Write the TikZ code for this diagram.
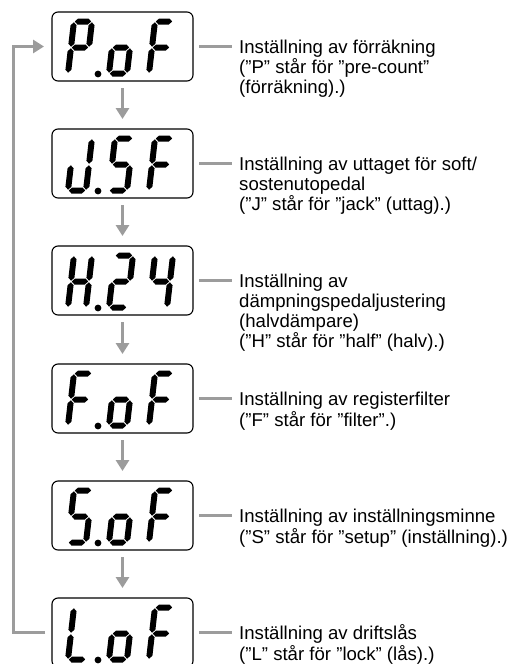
\documentclass[tikz,border=0pt]{standalone}
\usepackage{fontspec}
\setmainfont{Liberation Sans}
\usetikzlibrary{arrows.meta}
\definecolor{conngray}{HTML}{9C9C9C}
% seven-segment pieces (local units, y up, W=18, H=52, T=6)
\newcommand\hseg[1]{\fill (0.8,{#1}) -- (3.8,{#1+3}) -- (14.2,{#1+3}) -- (17.2,{#1}) -- (14.2,{#1-3}) -- (3.8,{#1-3}) -- cycle;}
\newcommand\vseg[3]{\fill ({#1},{#2+0.8}) -- ({#1+3},{#2+3.8}) -- ({#1+3},{#3-3.8}) -- ({#1},{#3-0.8}) -- ({#1-3},{#3-3.8}) -- ({#1-3},{#2+3.8}) -- cycle;}
\newcommand\lcdsegA{\hseg{52}}
\newcommand\lcdsegG{\hseg{26}}
\newcommand\lcdsegD{\hseg{0}}
\newcommand\lcdsegB{\vseg{18}{26}{52}}
\newcommand\lcdsegC{\vseg{18}{0}{26}}
\newcommand\lcdsegE{\vseg{0}{0}{26}}
\newcommand\lcdsegF{\vseg{0}{26}{52}}
\newcommand\lcdchar[3]{\begin{scope}[shift={(#1,{#2})},x=1pt,y=1pt,xslant=0.115]\foreach \s in {#3}{\csname lcdseg\s\endcsname}\end{scope}}
\newcommand\lcdbox[5]{%
  \node[lcdframe] (#1) at (52,#2) {};
  \lcdchar{68}{#2+61.5}{#3}
  \fill (98,{#2+62}) circle[radius=3.4pt];
  \lcdchar{109}{#2+61.5}{#4}
  \lcdchar{149}{#2+61.5}{#5}
}
\begin{document}
\begin{tikzpicture}[x=1pt,y=-1pt,
  lcdframe/.style={draw=black, line width=1.1pt, rounded corners=6pt, anchor=north west,
    minimum width=141pt, minimum height=69pt, inner sep=0pt, outer sep=0pt},
  conn/.style={draw=conngray, line width=3pt},
  connarrow/.style={conn, -{Triangle[width=13pt,length=11pt]}},
  desc/.style={anchor=base west, inner sep=0pt, font=\fontsize{18.6}{20}\selectfont}]
\useasboundingbox (0,0) rectangle (509,664);
\clip (0,0) rectangle (509,664);
\fill[white] (0,0) rectangle (509,664);

\lcdbox{b1}{12}{A,B,E,F,G}{C,D,E,G}{A,E,F,G}
\lcdbox{b2}{129}{B,C,D,E}{A,C,D,F,G}{A,E,F,G}
\lcdbox{b3}{246}{B,C,E,F,G}{A,B,D,E,G}{B,C,F,G}
\lcdbox{b4}{364}{A,E,F,G}{C,D,E,G}{A,E,F,G}
\lcdbox{b5}{481}{A,C,D,F,G}{C,D,E,G}{A,E,F,G}
\lcdbox{b6}{598}{D,E,F}{C,D,E,G}{A,E,F,G}

\node[desc] (t1) at ([xshift=46pt,yshift=-6.5pt]b1.east) {\begin{tabular}[t]{@{}l@{}}Inställning av förräkning\\(”P” står för ”pre-count”\\(förräkning).)\end{tabular}};
\node[desc] (t2) at ([xshift=46pt,yshift=-6.5pt]b2.east) {\begin{tabular}[t]{@{}l@{}}Inställning av uttaget för soft/\\sostenutopedal\\(”J” står för ”jack” (uttag).)\end{tabular}};
\node[desc] (t3) at ([xshift=46pt,yshift=-6.5pt]b3.east) {\begin{tabular}[t]{@{}l@{}}Inställning av\\dämpningspedaljustering\\(halvdämpare)\\(”H” står för ”half” (halv).)\end{tabular}};
\node[desc] (t4) at ([xshift=46pt,yshift=-6.5pt]b4.east) {\begin{tabular}[t]{@{}l@{}}Inställning av registerfilter\\(”F” står för ”filter”.)\end{tabular}};
\node[desc] (t5) at ([xshift=46pt,yshift=-6.5pt]b5.east) {\begin{tabular}[t]{@{}l@{}}Inställning av inställningsminne\\(”S” står för ”setup” (inställning).)\end{tabular}};
\node[desc] (t6) at ([xshift=46pt,yshift=-6.5pt]b6.east) {\begin{tabular}[t]{@{}l@{}}Inställning av driftslås\\(”L” står för ”lock” (lås).)\end{tabular}};

\foreach \i in {1,...,6}{
  \draw[conn] ([xshift=6pt]b\i.east) -- ([xshift=-7pt,yshift=6.5pt]t\i.base west);
}
\foreach \i/\j in {1/2,2/3,3/4,4/5,5/6}{
  \draw[connarrow] ([yshift=-7pt]b\i.south) -- ([yshift=10pt]b\j.north);
}
\coordinate (lb) at (13,0);
\draw[connarrow] ([xshift=-7pt]b6.west) -- (b6.west -| lb) -- (b1.west -| lb) -- ([xshift=-8pt]b1.west);
\end{tikzpicture}
\end{document}
